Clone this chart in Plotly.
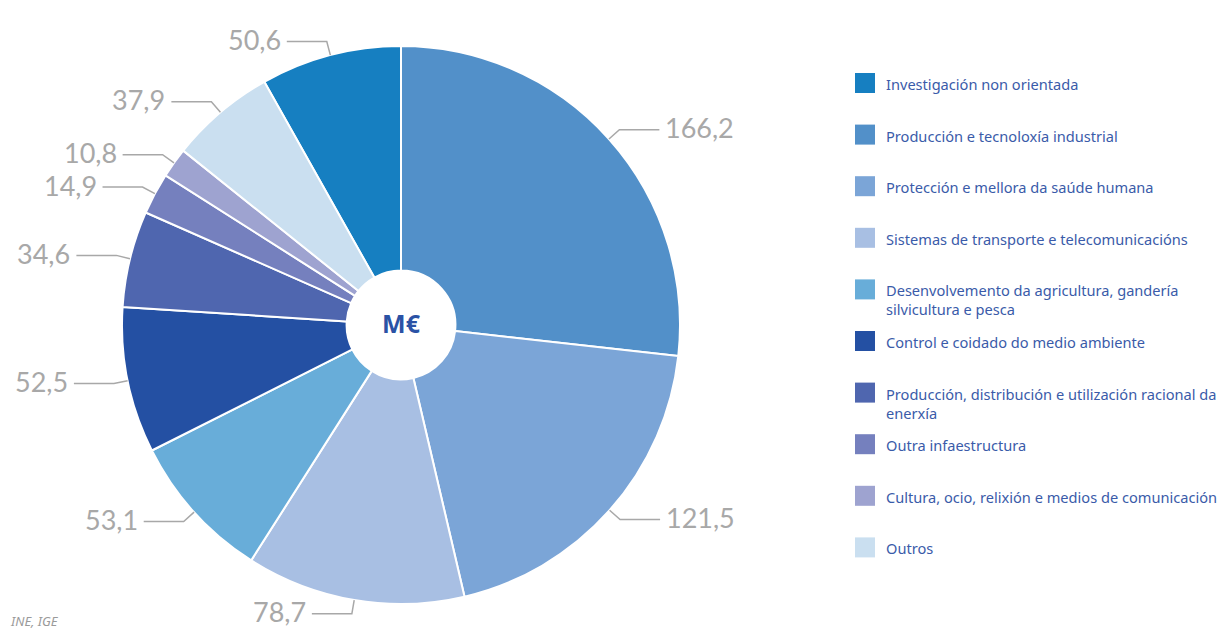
import math
import plotly.graph_objects as go

# Investment by socio-economic objective (M€)
labels = [
    "Investigación non orientada",
    "Producción e tecnoloxía industrial",
    "Protección e mellora da saúde humana",
    "Sistemas de transporte e telecomunicacións",
    "Desenvolvemento da agricultura, gandería<br>silvicultura e pesca",
    "Control e coidado do medio ambiente",
    "Producción, distribución e utilización racional da<br>enerxía",
    "Outra infaestructura",
    "Cultura, ocio, relixión e medios de comunicación",
    "Outros",
]
values = [50.6, 166.2, 121.5, 78.7, 53.1, 52.5, 34.6, 14.9, 10.8, 37.9]
colors = [
    "#167FC1", "#5290C9", "#7BA5D7", "#A8BFE3", "#68ADD9",
    "#2450A3", "#4F66AF", "#7580BE", "#9EA3D0", "#CADFF0",
]
center_text = "M€"
source = "INE, IGE"

# the page body has an 8px margin, so the figure is drawn 8px in from the corner
OFF = 8
W, H = 1228 - OFF, 629 - OFF
CX, CY, R = 401, 325, 279
LABEL_GRAY = "#A8A8A8"
TEXT_BLUE = "#3A5BA9"


def px(x):
    return (x - OFF) / W


def py(y):
    return 1 - (y - OFF) / H


total = sum(values)
rotation = -values[0] / total * 360

fig = go.Figure(go.Pie(
    labels=labels,
    values=values,
    sort=False,
    direction="clockwise",
    rotation=rotation,
    hole=0.195,
    marker=dict(colors=colors, line=dict(color="white", width=2)),
    textinfo="none",
    hovertemplate="%{label}<br>%{value:.1f} M€<extra></extra>",
    title=dict(text="<b>" + center_text + "</b>", position="middle center",
               font=dict(family="Noto Sans", size=25, color="#2A52A5")),
    domain=dict(x=[px(CX - R), px(CX + R)], y=[py(CY + R), py(CY - R)]),
    showlegend=False,
))

# value labels with leader lines, placed at the mid angle of each slice
shapes = []
annotations = []
angle = rotation
for v in values:
    span = v / total * 360
    mid = math.radians(angle + span / 2)
    angle += span
    s, c = math.sin(mid), -math.cos(mid)
    x0, y0 = CX + R * s, CY + R * c
    x1, y1 = CX + (R + 14) * s, CY + (R + 14) * c
    side = 1 if s >= 0 else -1
    x2 = x1 + side * 40
    path = f"M{px(x0)},{py(y0)} L{px(x1)},{py(y1)} L{px(x2)},{py(y1)}"
    shapes.append(dict(type="path", path=path, xref="paper", yref="paper",
                       line=dict(color=LABEL_GRAY, width=1.5)))
    annotations.append(dict(
        x=px(x2 + side * 4), y=py(y1 - 2), xref="paper", yref="paper",
        text=f"{v:.1f}".replace(".", ","), showarrow=False,
        xanchor="left" if side > 0 else "right", yanchor="middle",
        font=dict(family="Lato", size=27, color=LABEL_GRAY, weight=400),
    ))

# legend drawn as swatches + text
LEG_TOP, LEG_STEP = 83, 51.6
for i, (lab, col) in enumerate(zip(labels, colors)):
    yc = LEG_TOP + i * LEG_STEP
    shapes.append(dict(type="rect", xref="paper", yref="paper",
                       x0=px(855), x1=px(875), y0=py(yc + 10), y1=py(yc - 10),
                       fillcolor=col, line=dict(width=0)))
    annotations.append(dict(
        x=px(884), y=py(yc - 11), xref="paper", yref="paper",
        text=lab, showarrow=False, xanchor="left", yanchor="top", align="left",
        font=dict(family="Noto Sans", size=14.6, color=TEXT_BLUE),
    ))

annotations.append(dict(
    x=0, y=py(610), xref="paper", yref="paper", text=source,
    showarrow=False, xanchor="left", yanchor="top",
    font=dict(family="Noto Sans", size=13, color="#9A9A9A", style="italic"),
))

fig.update_layout(
    width=W,
    height=H,
    margin=dict(l=0, r=0, t=0, b=0),
    paper_bgcolor="white",
    plot_bgcolor="white",
    shapes=shapes,
    annotations=annotations,
)

fig.write_html("out.html")
